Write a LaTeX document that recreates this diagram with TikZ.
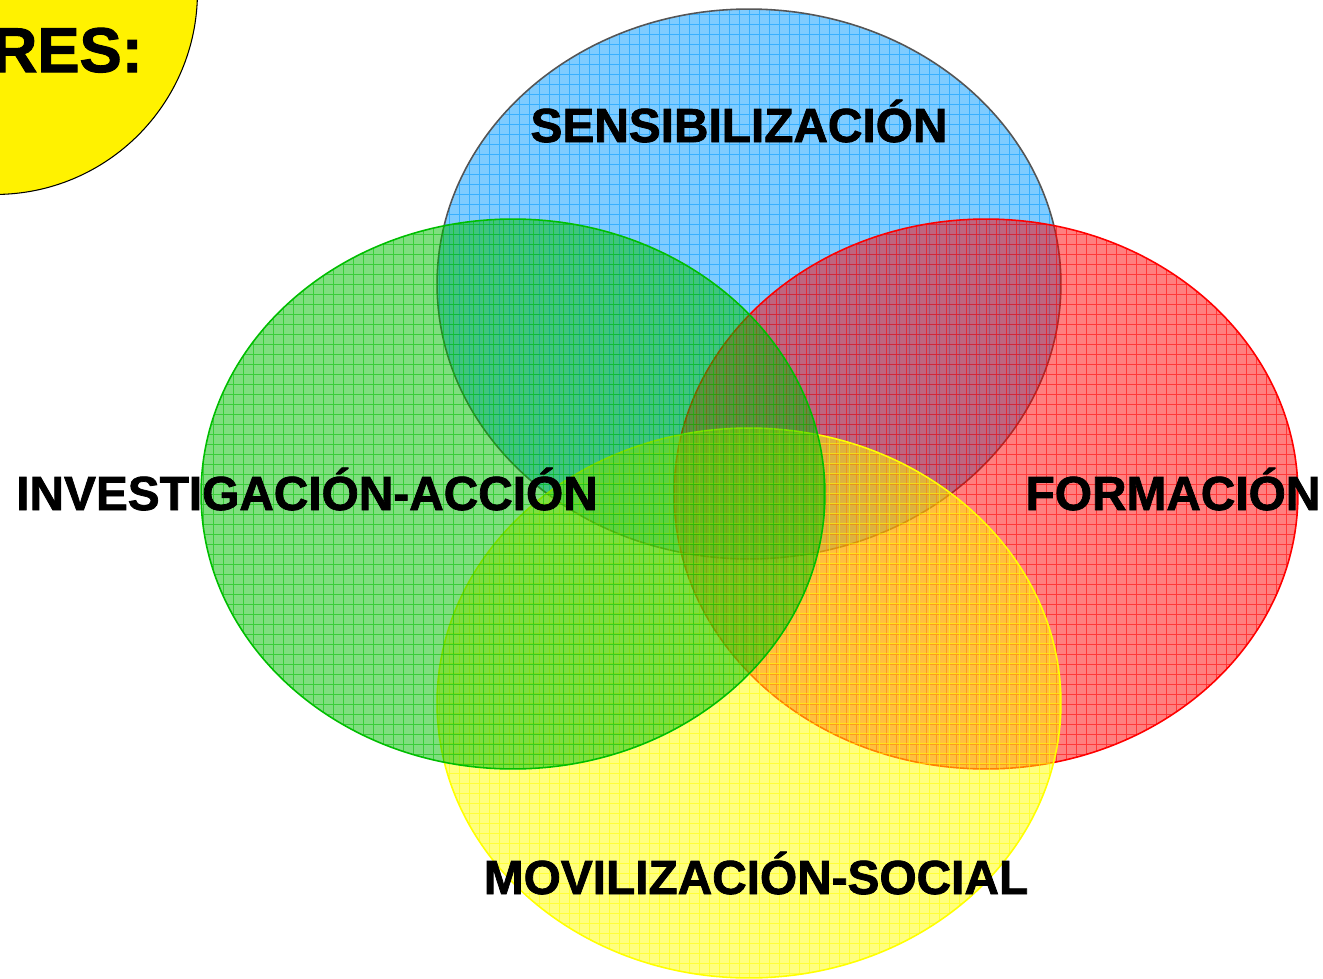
\documentclass[tikz,border=0pt]{standalone}
\usepackage{fontspec}
\setmainfont{Liberation Sans}
\newfontfamily\heavyfont{Liberation Sans}[BoldFeatures={FakeBold=1.6}]
\usetikzlibrary{shapes.geometric}

\definecolor{sensblue}{RGB}{0,153,255}
\definecolor{sensline}{RGB}{85,85,85}
\definecolor{invgreen}{RGB}{0,190,0}
\definecolor{formred}{RGB}{255,0,0}
\definecolor{movyellow}{RGB}{255,255,0}

\begin{document}
\begin{tikzpicture}[
  x=0.02cm, y=-0.02cm,
  circ/.style 2 args={ellipse, draw=#2, line width=0.9pt, fill=#1, fill opacity=0.5,
    minimum width=12.48cm, minimum height=11cm, inner sep=0pt,
    path picture={\draw[#1, draw opacity=0.55, line width=0.5pt, step=0.2cm]
      (path picture bounding box.south west) grid (path picture bounding box.north east);}},
  lbl/.style={anchor=base, font=\heavyfont\bfseries\fontsize{27.2}{30}\selectfont, text=black}
]
\useasboundingbox (0,0) rectangle (1323,978);

% Title badge
\node[circle, draw=black, line width=0.6pt, fill=yellow, minimum size=8.1cm, inner sep=0pt] (badge) at (-5,-8) {};
\node[anchor=base east, font=\heavyfont\bfseries\fontsize{36}{40}\selectfont] (title) at (149,72) {RES:};

% Circles
\node[circ={sensblue}{sensline}] (sens) at (749,284) {};
\node[circ={formred}{formred}] (form) at (986,494) {};
\node[circ={movyellow}{movyellow}] (movil) at (749,703) {};
\node[circ={invgreen}{invgreen}] (inv) at (513,494) {};

% Labels
\node[lbl] (sens label) at (739,142) {SENSIBILIZACIÓN};
\node[lbl] (inv label) at (307,510) {INVESTIGACIÓN-ACCIÓN};
\node[lbl] (form label) at (1173,510) {FORMACIÓN};
\node[lbl] (movil label) at (756,894) {MOVILIZACIÓN-SOCIAL};

\end{tikzpicture}
\end{document}
